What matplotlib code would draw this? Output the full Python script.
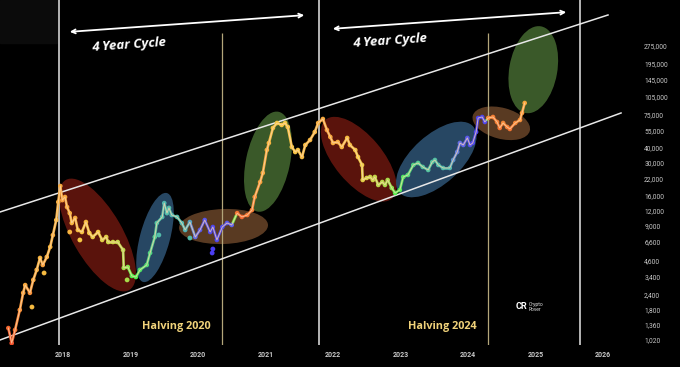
import matplotlib
matplotlib.use("Agg")
import matplotlib.pyplot as plt
import numpy as np
from matplotlib.collections import LineCollection
from matplotlib.colors import LinearSegmentedColormap
from matplotlib.patches import Ellipse, Rectangle
from matplotlib.transforms import ScaledTranslation

# BTC price path (decimal year, USD)
years = [2017.19, 2017.24, 2017.29, 2017.36, 2017.41, 2017.44, 2017.51, 2017.56, 2017.61, 2017.66,
         2017.70, 2017.76, 2017.81, 2017.85, 2017.90, 2017.93, 2017.96,
         2017.99, 2018.03, 2018.06, 2018.10, 2018.13, 2018.18, 2018.22, 2018.28, 2018.34, 2018.39,
         2018.44, 2018.52, 2018.58, 2018.64, 2018.67, 2018.74, 2018.81, 2018.89, 2018.90, 2018.96,
         2019.02, 2019.08,
         2019.14, 2019.24, 2019.29, 2019.36, 2019.39, 2019.47, 2019.50, 2019.54, 2019.57, 2019.61,
         2019.69, 2019.76, 2019.81, 2019.88, 2019.96, 2020.03, 2020.10, 2020.18, 2020.22, 2020.28,
         2020.36, 2020.43, 2020.50, 2020.58, 2020.65, 2020.73, 2020.80, 2020.84, 2020.92, 2020.96,
         2021.02, 2021.05, 2021.11, 2021.17, 2021.24, 2021.29, 2021.33, 2021.39, 2021.44, 2021.48,
         2021.54, 2021.59, 2021.66, 2021.73, 2021.78, 2021.85,
         2021.91, 2021.96, 2022.00, 2022.07, 2022.13, 2022.21, 2022.25, 2022.33, 2022.37, 2022.43,
         2022.44, 2022.50, 2022.55, 2022.59, 2022.62, 2022.67, 2022.73, 2022.77, 2022.81, 2022.87,
         2022.92,
         2022.99, 2023.04, 2023.11, 2023.19, 2023.26, 2023.33, 2023.41, 2023.47, 2023.51, 2023.56,
         2023.63, 2023.73, 2023.78, 2023.84, 2023.88, 2023.93, 2023.99, 2024.03, 2024.07, 2024.12,
         2024.15, 2024.21, 2024.25, 2024.30, 2024.37, 2024.43, 2024.47, 2024.52, 2024.58, 2024.62,
         2024.70, 2024.77, 2024.80, 2024.84]
prices = [1280, 960, 1235, 1806, 2500, 2900, 2500, 3200, 3870, 4860,
          4250, 4950, 5990, 7500, 10000, 14100, 19100,
          14600, 15500, 12800, 11400, 9450, 10400, 8270, 7960, 9630, 7810,
          7240, 7960, 6840, 7240, 6580, 6580, 6580, 5655, 4020, 4090,
          3450, 3380,
          3870, 4250, 5340, 7240, 9450, 10600, 13800, 11400, 12600, 11000,
          10600, 9450, 8270, 9630, 7240, 8270, 10000, 7960, 8760, 6840,
          8760, 9450, 9100, 11400, 10600, 11000, 12100, 15500, 20600, 24480,
          37900, 43320, 57650, 63380, 61030, 63380, 58740, 40140, 36480, 37900,
          33190, 41700, 45870, 53390, 63380, 68400,
          55480, 48570, 43320, 44140, 40140, 47670, 41700, 37900, 33190, 28510,
          21425, 22270, 22690, 21425, 22690, 19490, 20620, 19490, 21425, 18410,
          16730,
          17714, 22690, 23570, 28510, 29620, 27440, 25916, 30170, 31344, 28510,
          26920, 26920, 31344, 36500, 43320, 41700, 47670, 41700, 43320, 53390,
          69710, 71050, 64600, 69710, 71050, 64600, 57650, 63380, 58740, 56550,
          63380, 67110, 76680, 92740]
# colour score of each point: 0 = violet/blue, 0.45 = green, 1 = red-orange
heat = [0.95, 1.00, 0.92, 0.86, 0.82, 0.80, 0.86, 0.80, 0.78, 0.76,
        0.82, 0.78, 0.76, 0.78, 0.76, 0.78, 0.80,
        0.82, 0.80, 0.80, 0.78, 0.76, 0.78, 0.74, 0.72, 0.74, 0.70,
        0.68, 0.70, 0.66, 0.66, 0.62, 0.62, 0.60, 0.58, 0.55, 0.52,
        0.46, 0.45,
        0.42, 0.40, 0.38, 0.36, 0.33, 0.30, 0.28, 0.30, 0.30, 0.28,
        0.30, 0.28, 0.26, 0.22, 0.10, 0.06, 0.05, 0.03, 0.02, 0.02,
        0.04, 0.05, 0.08, 0.92, 0.95, 0.92, 0.90, 0.86, 0.82, 0.80,
        0.78, 0.76, 0.72, 0.70, 0.70, 0.70, 0.72, 0.72, 0.72, 0.72,
        0.74, 0.74, 0.76, 0.76, 0.78, 0.80,
        0.82, 0.80, 0.78, 0.78, 0.76, 0.74, 0.74, 0.72, 0.70, 0.68,
        0.66, 0.64, 0.62, 0.62, 0.60, 0.58, 0.58, 0.56, 0.56, 0.52,
        0.46,
        0.44, 0.42, 0.40, 0.38, 0.36, 0.34, 0.33, 0.33, 0.32, 0.30,
        0.30, 0.28, 0.18, 0.14, 0.10, 0.08, 0.06, 0.04, 0.03, 0.02,
        0.01, 0.02, 0.02, 0.88, 0.90, 0.90, 0.92, 0.88, 0.90, 0.92,
        0.88, 0.86, 0.84, 0.80]

# loose dots off the line
dot_years = [2017.54, 2017.72, 2018.10, 2018.25, 2018.95, 2019.42, 2019.88, 2020.21, 2020.22]
dot_prices = [1910, 3650, 7960, 6840, 3200, 7520, 7100, 5340, 5760]
dot_heat = [0.74, 0.74, 0.76, 0.70, 0.56, 0.30, 0.30, 0.00, 0.00]

year_ticks = [2018, 2019, 2020, 2021, 2022, 2023, 2024, 2025, 2026]
price_ticks = [1020, 1360, 1800, 2400, 3400, 4600, 6600, 9000, 12000, 16000, 22000,
               30000, 40000, 55000, 75000, 105000, 145000, 195000, 275000]

cycle_tops = [2017.94, 2021.79, 2025.66]
halvings = [2020.356, 2024.296]
halving_labels = ["Halving 2020", "Halving 2024"]

# channel lines: (year, price) start and end
upper_channel = [(2017.067, 11650), (2026.074, 495000)]
lower_channel = [(2017.067, 1020), (2026.267, 76680)]

# zones: centre (year, price), width / height in px, angle, colour
zones = [
    (2018.511, 7520, 127, 50, -60, "#8c1e14"),
    (2019.363, 7170, 92, 30, 75, "#3d6e9a"),
    (2020.378, 8840, 89, 35, 2, "#8a5a35"),
    (2021.037, 30350, 102, 44, 78, "#5a8a40"),
    (2022.381, 31830, 103, 48, -50, "#8c1e14"),
    (2023.530, 31640, 99, 49, 42, "#3d6e9a"),
    (2024.493, 63020, 59, 31, -15, "#8a5a35"),
    (2024.967, 174800, 88, 48, 80, "#5a8a40"),
]

heat_cmap = LinearSegmentedColormap.from_list("heat", [
    (0.00, "#4a3cf0"), (0.12, "#6a78e0"), (0.25, "#4fb0b8"), (0.35, "#55c89a"),
    (0.45, "#4cf04c"), (0.58, "#b8d84a"), (0.70, "#f5c842"), (0.85, "#f7963a"),
    (1.00, "#f0502a")])

fig = plt.figure(figsize=(6.8, 3.67), dpi=100, facecolor="black")
ax = fig.add_axes([0, 1 - 345 / 367, 640 / 680, 345 / 367])
ax.set_facecolor("black")
ax.set_yscale("log")
ax.set_xlim(2017.0667, 2026.548)
ax.set_ylim(927, 658300)

# faint panel in the top-left corner
ax.add_patch(Rectangle((0, 1 - 43 / 345), 57 / 640, 43 / 345, transform=ax.transAxes,
                       color="#0b0b0b", zorder=0))

for i, zone in enumerate(zones):
    cx, cy, w, h, ang, col = zone
    tr = fig.dpi_scale_trans + ScaledTranslation(cx, cy, ax.transData)
    ax.add_patch(Ellipse((0, 0), w / 100, h / 100, angle=ang, transform=tr,
                         facecolor=col, alpha=0.65, edgecolor="none", zorder=1))

# vertical markers
ax.vlines(cycle_tops, 927, 658300, color="#e6e6e6", lw=1.1, zorder=2)
ax.vlines(halvings, 927, 352000, color="#b3a67a", lw=0.9, zorder=2)

for seg in [upper_channel, lower_channel]:
    ax.plot([seg[0][0], seg[1][0]], [seg[0][1], seg[1][1]], color="#e8e8e8", lw=1.1, zorder=2)

# price line coloured by heat
pts = np.column_stack([years, prices])
segs = np.stack([pts[:-1], pts[1:]], axis=1)
seg_heat = (np.array(heat[:-1]) + np.array(heat[1:])) / 2
lc = LineCollection(segs, colors=heat_cmap(seg_heat), linewidths=1.9, zorder=3)
ax.add_collection(lc)
ax.scatter(years, prices, c=heat_cmap(np.array(heat)), s=11, linewidths=0, zorder=4)
ax.scatter(dot_years, dot_prices, c=heat_cmap(np.array(dot_heat)), s=12, linewidths=0, zorder=4)
ax.plot(years, prices, color="#ffd9b0", lw=0.7, alpha=0.75, zorder=5)

# 4 year cycle arrows
arrow_kw = dict(arrowstyle="<->", color="white", lw=1.3, mutation_scale=7)
ax.annotate("", xy=(2021.615, 495000), xytext=(2018.059, 358000), arrowprops=arrow_kw, zorder=6)
ax.annotate("", xy=(2025.496, 524000), xytext=(2021.956, 379300), arrowprops=arrow_kw, zorder=6)
for x, y in [(2018.978, 279800), (2022.844, 301800)]:
    ax.text(x, y, "4 Year Cycle", color="white", fontsize=9.5, fontweight="bold",
            fontstyle="italic", family="Open Sans", rotation=4, ha="center", va="center")

for x, label in zip(halvings, halving_labels):
    ax.text(x - 0.68, 1306, label, color="#f0d27a", fontsize=7.8, fontweight="bold",
            family="Open Sans", ha="center", va="center")

# watermark
ax.text(2024.785, 1911, "CR", color="white", fontsize=6.5, fontweight="bold",
        family="Roboto", ha="center", va="center")
ax.text(2024.90, 1911, "Crypto\nRover", color="#dddddd", fontsize=3.6,
        family="Roboto", ha="left", va="center", linespacing=1.1)

ax.set_xticks(year_ticks)
ax.set_xticklabels([str(y) for y in year_ticks])
ax.set_yticks(price_ticks)
ax.set_yticklabels([f"{p:,}" for p in price_ticks])
ax.yaxis.set_minor_locator(matplotlib.ticker.NullLocator())
ax.yaxis.tick_right()
ax.tick_params(axis="y", length=0, pad=3, labelsize=4.8, labelcolor="#c8c8c8")
ax.tick_params(axis="x", length=0, pad=4, labelsize=5, labelcolor="#c8c8c8")
for lbl in ax.get_xticklabels() + ax.get_yticklabels():
    lbl.set_family("Roboto")
for lbl in ax.get_xticklabels():
    lbl.set_fontweight("bold")
for s in ax.spines.values():
    s.set_visible(False)

fig.savefig("out.png", dpi=100, facecolor="black")
